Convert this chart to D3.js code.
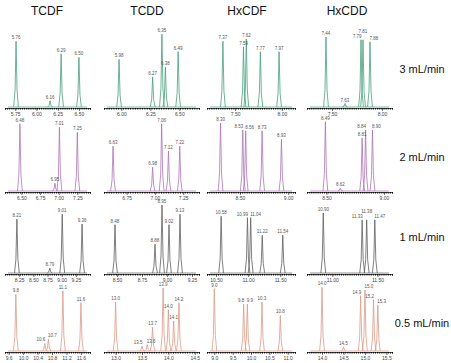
<!DOCTYPE html>
<html>
<head>
<meta charset="utf-8">
<script src="https://cdn.jsdelivr.net/npm/d3@7"></script>
<style>
  body { margin: 0; background: #fff; }
  svg { display: block; font-family: "Liberation Sans", Arial, sans-serif; }
</style>
</head>
<body>
<div id="chart"></div>
<script>
// compounds (columns) and flow rates (rows)
const compounds = ["TCDF", "TCDD", "HxCDF", "HxCDD"];
const flows = ["3 mL/min", "2 mL/min", "1 mL/min", "0.5 mL/min"];

// retention times of the labelled peaks, one array per panel, row by row
const rt3 = [[5.76, 6.16, 6.29, 6.50], [5.98, 6.27, 6.35, 6.38, 6.49], [7.37, 7.59, 7.62, 7.77, 7.97], [7.44, 7.63, 7.79, 7.81, 7.88]];
const rt2 = [[6.48, 6.95, 7.01, 7.25], [6.63, 6.98, 7.06, 7.12, 7.22], [8.30, 8.53, 8.56, 8.73, 8.93], [8.49, 8.62, 8.81, 8.84, 8.90]];
const rt1 = [[8.21, 8.79, 9.01, 9.36], [8.48, 8.88, 8.95, 9.02, 9.13], [10.58, 10.99, 11.04, 11.22, 11.54], [10.90, 11.33, 11.38, 11.47]];
const rt05 = [[9.8, 10.6, 10.7, 11.1, 11.6], [13.0, 13.5, 13.6, 13.7, 13.9, 14.0, 14.1, 14.2], [9.0, 9.8, 9.9, 10.3, 10.8], [14.0, 14.5, 14.9, 15.0, 15.2, 15.3]];

// relative peak heights (1 = tallest peak of the figure)
const h3 = [[0.94, 0.09, 0.76, 0.71], [0.68, 0.43, 1.04, 0.57, 0.79], [0.94, 0.86, 0.97, 0.79, 0.79], [1.0, 0.05, 0.96, 0.96, 0.93]];
const h2 = [[0.96, 0.11, 0.91, 0.84], [0.64, 0.34, 0.96, 0.57, 0.64], [0.97, 0.87, 0.86, 0.86, 0.74], [0.99, 0.04, 0.76, 0.87, 0.87]];
const h1 = [[0.77, 0.07, 0.84, 0.70], [0.69, 0.41, 0.97, 0.69, 0.84], [0.81, 0.79, 0.79, 0.54, 0.54], [0.86, 0.76, 0.76, 0.76]];
const h05 = [[0.81, 0.11, 0.17, 0.86, 0.69], [0.70, 0.07, 0.09, 0.34, 0.90, 0.59, 0.43, 0.69], [0.89, 0.67, 0.67, 0.70, 0.51], [0.91, 0.06, 0.79, 0.87, 0.73, 0.66]];

// x-axis domains (minutes) and labelled ticks of each panel
const dom3 = [[5.63, 6.63], [5.85, 6.67], [7.20, 8.14], [7.25, 8.10]];
const dom2 = [[6.28, 7.42], [6.55, 7.39], [8.16, 9.07], [8.33, 9.07]];
const dom1 = [[8.0, 9.5], [8.37, 9.32], [10.36, 11.73], [10.72, 11.66]];
const dom05 = [[9.5, 11.85], [12.78, 14.58], [8.8, 11.2], [13.65, 15.63]];
const ticks3 = [[5.75, 6.00, 6.25, 6.50], [6.00, 6.25, 6.50], [7.50, 8.00], [7.50, 8.00]];
const ticks2 = [[6.50, 6.75, 7.00, 7.25], [6.75, 7.00, 7.25], [8.50, 9.00], [8.50, 9.00]];
const ticks1 = [[8.25, 8.50, 8.75, 9.00, 9.25], [8.50, 8.75, 9.00, 9.25], [10.50, 11.00, 11.50], [11.00, 11.50]];
const ticks05 = [[9.6, 10.0, 10.4, 10.8, 11.2, 11.6], [13.0, 13.5, 14.0, 14.5], [9.0, 9.5, 10.0, 10.5, 11.0], [14.0, 14.5, 15.0, 15.5]];

const rows = [
  { rt: rt3, h: h3, dom: dom3, ticks: ticks3 },
  { rt: rt2, h: h2, dom: dom2, ticks: ticks2 },
  { rt: rt1, h: h1, dom: dom1, ticks: ticks1 },
  { rt: rt05, h: h05, dom: dom05, ticks: ticks05 }
];

const width = 451, height = 363;
const colX = [[5, 90], [104, 199], [207, 295], [307, 392]]; // pixel span of each column
const rowBase = [108, 192, 274, 352]; // axis line of each row
const peakPx = 70; // height of a relative peak of 1
const colors = ["#46a07c", "#ad74b6", "#5f5f5f", "#dc9a88"];

const svg = d3.select("#chart")
  .append("svg")
  .attr("width", width)
  .attr("height", height);

// column titles
svg.append("g")
  .selectAll("text")
  .data(compounds)
  .join("text")
  .attr("x", (d, i) => [47, 147, 247, 347][i])
  .attr("y", 15)
  .attr("text-anchor", "middle")
  .attr("font-size", 12)
  .attr("fill", "#111")
  .text(d => d);

// flow-rate labels on the right
svg.append("g")
  .selectAll("text")
  .data(flows)
  .join("text")
  .attr("x", 422)
  .attr("y", (d, i) => [73, 161, 241, 327][i])
  .attr("text-anchor", "middle")
  .attr("font-size", 11)
  .attr("fill", "#111")
  .text(d => d);

const peakLine = d3.line().x(d => d[0]).y(d => d[1]);

rows.forEach((row, r) => {
  const base = rowBase[r];
  const y = d3.scaleLinear().domain([0, 1]).range([base - 1, base - 1 - peakPx]);

  compounds.forEach((c, ci) => {
    const x = d3.scaleLinear().domain(row.dom[ci]).range(colX[ci]);
    const g = svg.append("g");

    // axis with small ticks
    const minor = d3.range(0, 41).map(k => row.dom[ci][0] + k * (row.dom[ci][1] - row.dom[ci][0]) / 40);
    g.append("g")
      .attr("transform", `translate(0,${base})`)
      .call(d3.axisBottom(x).tickValues(minor).tickSize(1.5).tickFormat(""))
      .call(a => a.select(".domain").attr("stroke", "#222").attr("stroke-width", 0.8));
    g.append("g")
      .attr("transform", `translate(0,${base})`)
      .call(d3.axisBottom(x).tickValues(row.ticks[ci]).tickSize(3).tickPadding(1).tickFormat(d3.format(r === 3 ? ".1f" : ".2f")))
      .call(a => a.select(".domain").remove())
      .call(a => a.selectAll("text").attr("font-size", 5).attr("fill", "#444"))
      .call(a => a.selectAll("line").attr("stroke", "#222").attr("stroke-width", 0.6));

    // baseline of the trace
    g.append("line")
      .attr("x1", colX[ci][0] + 3).attr("x2", colX[ci][1] - 3)
      .attr("y1", y(0)).attr("y2", y(0))
      .attr("stroke", colors[r]).attr("stroke-width", 0.7);

    const peaks = row.rt[ci].map((t, k) => ({ t, h: row.h[ci][k], px: x(t) }));
    // close neighbours: push the labels apart sideways
    peaks.forEach((p, k) => {
      const prev = peaks[k - 1], next = peaks[k + 1];
      const nearPrev = prev && p.px - prev.px < 9 && Math.abs(y(p.h) - y(prev.h)) < 6;
      const nearNext = next && next.px - p.px < 9 && Math.abs(y(p.h) - y(next.h)) < 6;
      p.anchor = nearNext && !nearPrev ? "end" : nearPrev && !nearNext ? "start" : "middle";
      p.dy = nearNext && nearPrev ? -5 : 0;
    });

    // one narrow peak per retention time
    g.append("g")
      .selectAll("path")
      .data(peaks)
      .join("path")
      .attr("fill", "none")
      .attr("stroke", colors[r])
      .attr("stroke-width", 0.8)
      .attr("d", d => peakLine([[d.px - 2.4, y(0)], [d.px - 1, y(d.h * 0.25)], [d.px, y(d.h)], [d.px + 1, y(d.h * 0.25)], [d.px + 2.4, y(0)]]));

    // retention-time labels above the peaks
    g.append("g")
      .selectAll("text")
      .data(peaks)
      .join("text")
      .attr("x", d => d.px + (d.anchor === "end" ? 0.5 : d.anchor === "start" ? -0.5 : 0))
      .attr("y", d => y(d.h) - 2 + d.dy)
      .attr("text-anchor", d => d.anchor)
      .attr("font-size", 4.5)
      .attr("fill", "#555")
      .text(d => r === 3 ? d.t.toFixed(1) : d.t.toFixed(2));
  });
});
</script>
</body>
</html>
